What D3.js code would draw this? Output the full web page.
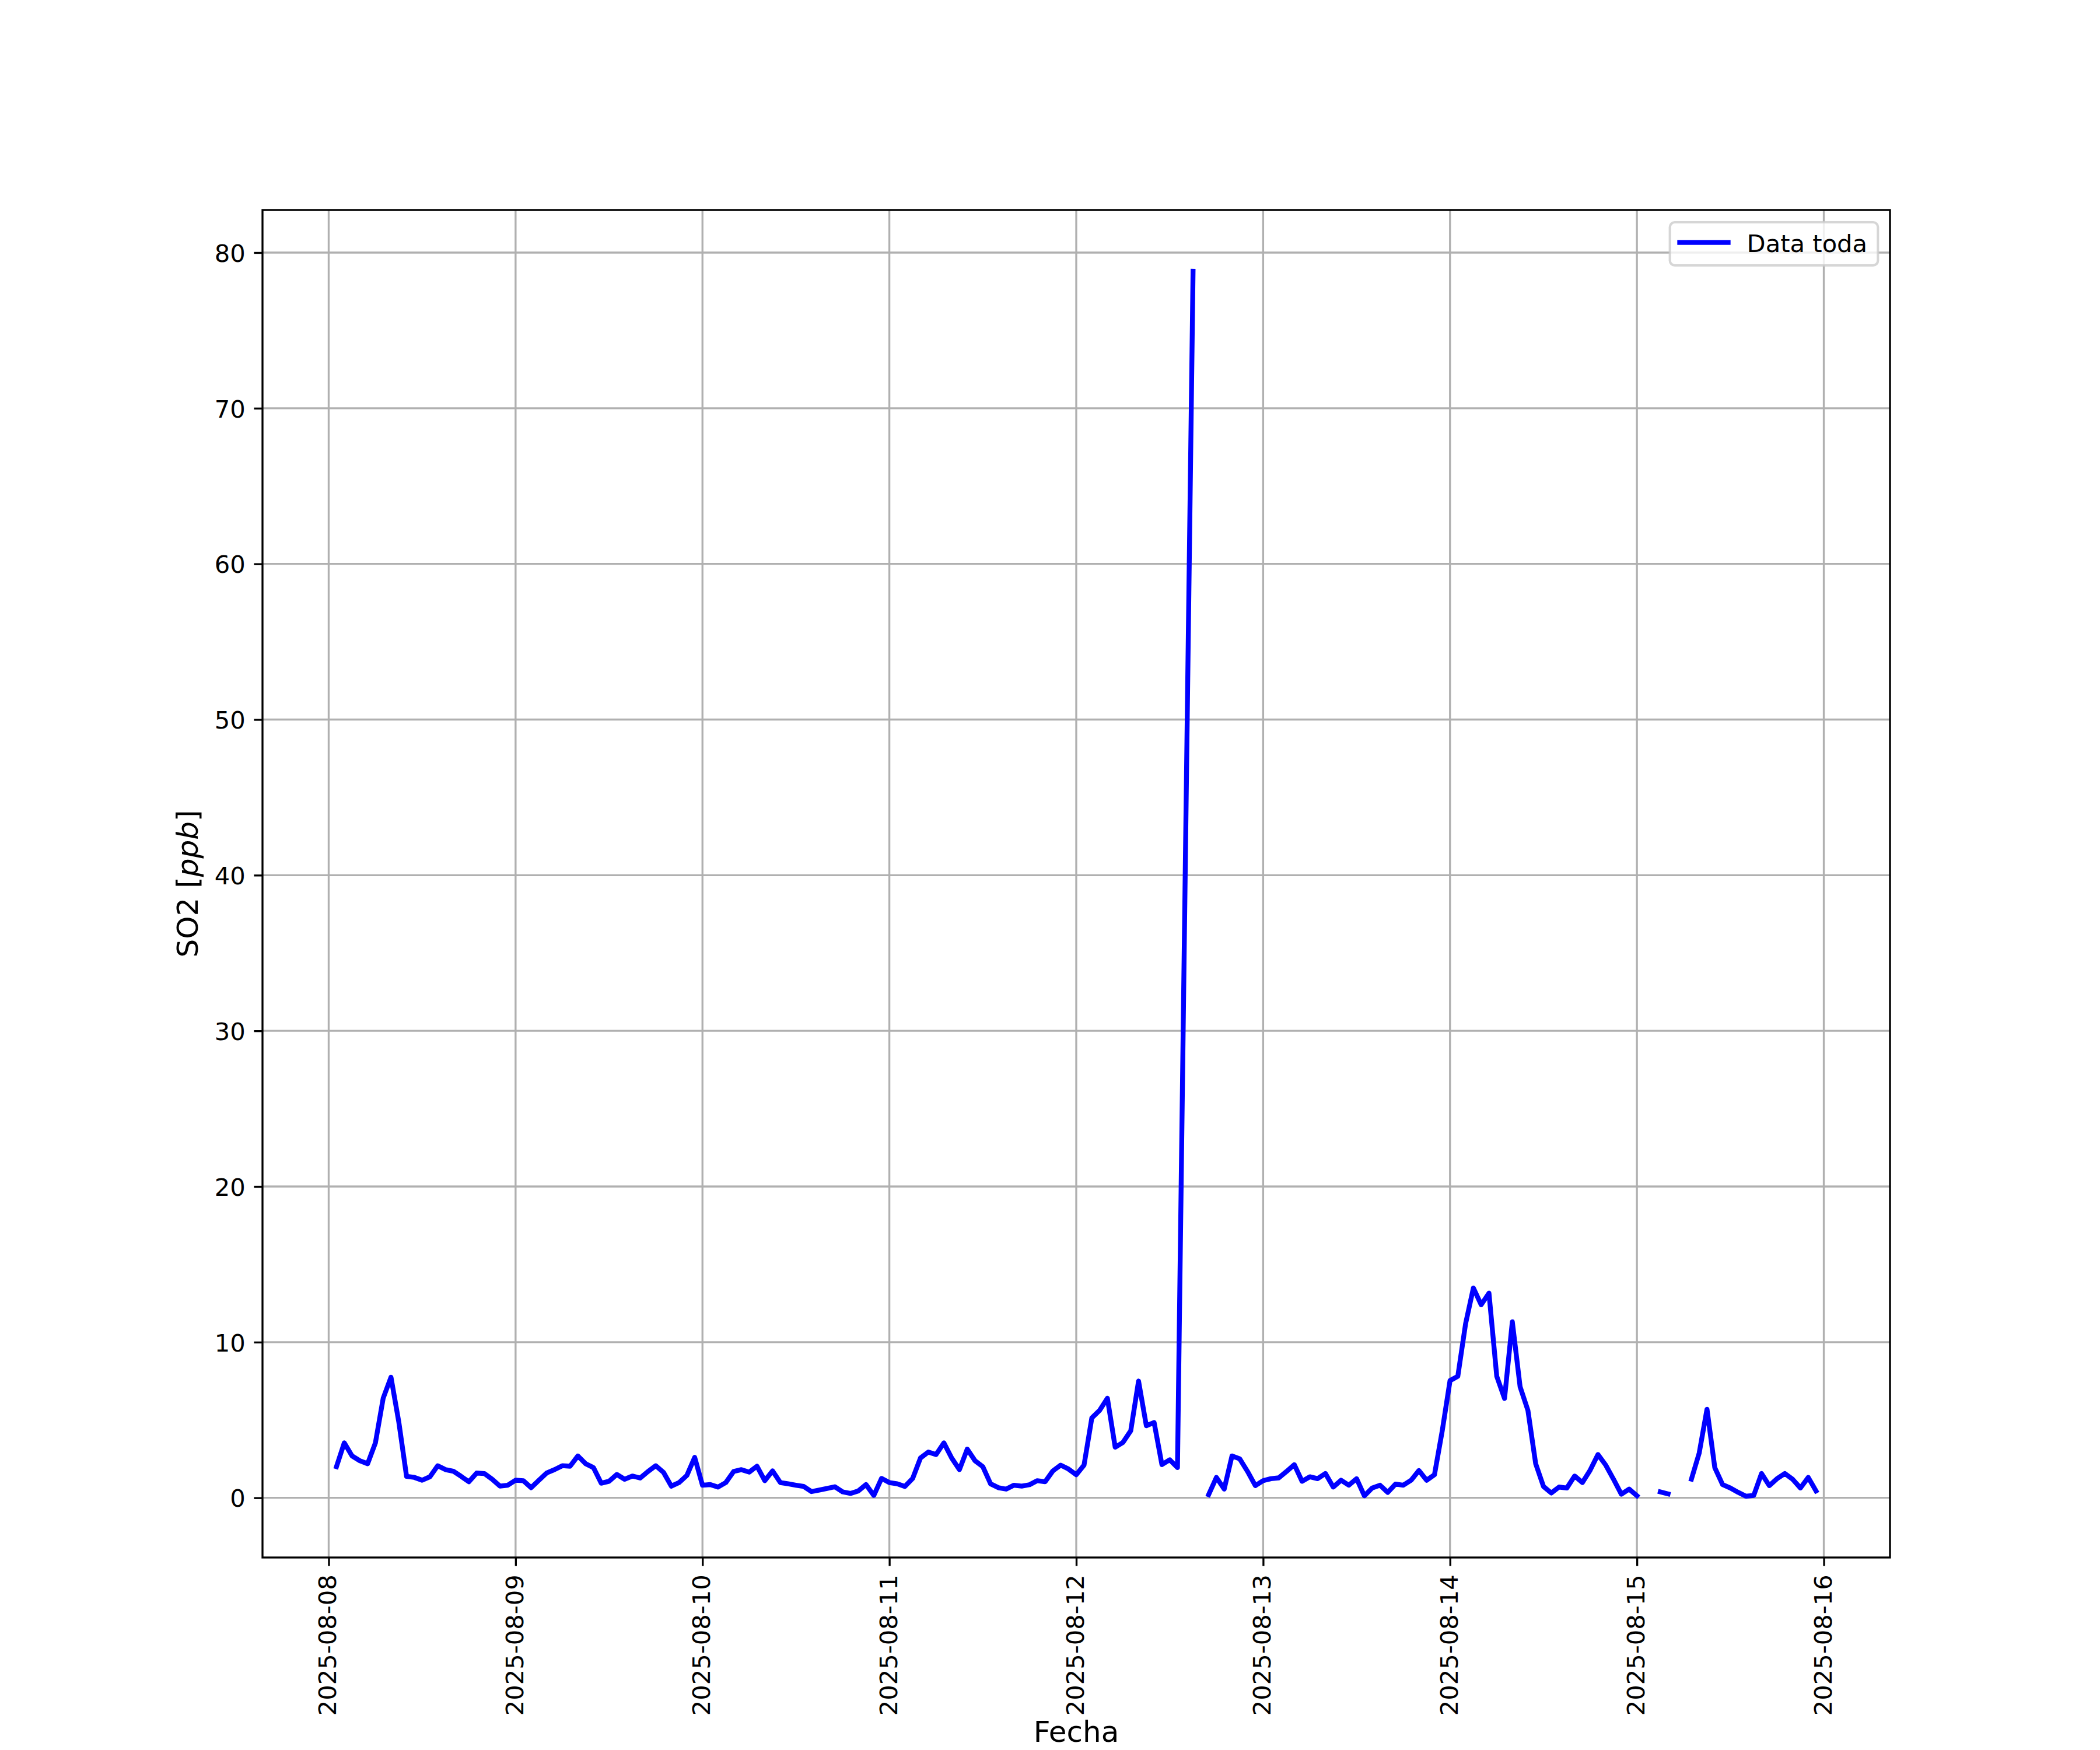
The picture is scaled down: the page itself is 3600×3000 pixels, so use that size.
<!DOCTYPE html>
<html>
<head>
<meta charset="utf-8">
<script src="https://cdn.jsdelivr.net/npm/d3@7"></script>
<style>
  html, body { margin: 0; padding: 0; background: #ffffff; }
  svg { display: block; }
  text { font-family: "DejaVu Sans", sans-serif; }
</style>
</head>
<body>
<svg id="chart" width="3600" height="3000"></svg>
<script>
// ---- data (hourly SO2, ppb) ----
const seriesName = "Data toda";
const firstHour = "2025-08-08T01:00:00Z";
// one value per hour from firstHour; null = missing reading (gap in the line)
const so2 = [
  2.00, 3.53, 2.69, 2.38, 2.19, 3.53, 6.40, 7.75, 4.88, 1.38, 1.31, 1.13,
  1.35, 2.06, 1.81, 1.71, 1.38, 1.03, 1.59, 1.56, 1.19, 0.75, 0.81, 1.13,
  1.10, 0.65, 1.13, 1.60, 1.81, 2.06, 2.03, 2.69, 2.19, 1.94, 0.94, 1.06,
  1.50, 1.19, 1.40, 1.27, 1.69, 2.06, 1.63, 0.75, 0.98, 1.44, 2.60, 0.81,
  0.85, 0.69, 0.98, 1.69, 1.81, 1.65, 2.03, 1.10, 1.73, 0.98, 0.90, 0.81,
  0.73, 0.40, 0.50, 0.60, 0.71, 0.38, 0.28, 0.44, 0.85, 0.15, 1.25, 0.98,
  0.90, 0.73, 1.25, 2.56, 2.94, 2.78, 3.53, 2.56, 1.81, 3.13, 2.38, 2.00,
  0.90, 0.65, 0.56, 0.81, 0.75, 0.84, 1.10, 1.03, 1.73, 2.10, 1.85, 1.48,
  2.10, 5.13, 5.62, 6.40, 3.25, 3.56, 4.31, 7.50, 4.63, 4.84, 2.13, 2.44,
  1.94, null, 78.80, null, 0.20, 1.31, 0.56, 2.69, 2.50, 1.69, 0.78, 1.10,
  1.23, 1.28, 1.69, 2.13, 1.06, 1.35, 1.23, 1.56, 0.69, 1.13, 0.81, 1.23,
  0.13, 0.63, 0.81, 0.35, 0.88, 0.81, 1.13, 1.75, 1.13, 1.48, 4.31, 7.53,
  7.81, 11.19, 13.48, 12.40, 13.15, 7.81, 6.38, 11.31, 7.13, 5.62, 2.19, 0.73,
  0.31, 0.69, 0.63, 1.40, 0.98, 1.78, 2.78, 2.10, 1.19, 0.23, 0.56, 0.13,
  null, null, 0.38, 0.25, null, null, 1.20, 2.88, 5.69, 1.94, 0.85, 0.63,
  0.35, 0.10, 0.15, 1.56, 0.78, 1.23, 1.56, 1.19, 0.63, 1.31, 0.44
];
// hours that have no row at all in the record (line joins across them)
const absentRows = ["2025-08-12T14:00:00Z"];
const xTickDates = ["2025-08-08","2025-08-09","2025-08-10","2025-08-11","2025-08-12",
                    "2025-08-13","2025-08-14","2025-08-15","2025-08-16"];
const yTicks = [0, 10, 20, 30, 40, 50, 60, 70, 80];
const xLabel = "Fecha";

// ---- build records ----
const t0 = new Date(firstHour).getTime();
const absentSet = new Set(absentRows.map(s => new Date(s).getTime()));
const records = so2.map((v, i) => ({ t: new Date(t0 + i * 3600e3), v }))
                   .filter(d => !absentSet.has(d.t.getTime()));

// ---- layout (matplotlib-like, 300 dpi) ----
const W = 3600, H = 3000;
const L = 450, R = 3240, T = 360, B = 2670;
const pt = 300 / 72;
const fsTick = 10 * pt, fsLabel = 12 * pt;
const tickLen = 3.5 * pt, tickPad = 3.5 * pt, spineW = 0.8 * pt;
const lineW = 2 * pt;

const svg = d3.select("#chart");
svg.append("rect").attr("width", W).attr("height", H).attr("fill", "#ffffff");

// scales with 5% margins
const tExt = d3.extent(records, d => d.t.getTime());
const tPad = (tExt[1] - tExt[0]) * 0.05;
const x = d3.scaleUtc().domain([new Date(tExt[0] - tPad), new Date(tExt[1] + tPad)]).range([L, R]);
const vals = records.filter(d => d.v != null).map(d => d.v);
const vMin = d3.min(vals), vMax = d3.max(vals);
const vPad = (vMax - vMin) * 0.05;
const y = d3.scaleLinear().domain([vMin - vPad, vMax + vPad]).range([B, T]);

const xTicks = xTickDates.map(s => new Date(s + "T00:00:00Z"));

// grid
const grid = svg.append("g").attr("stroke", "#b0b0b0").attr("stroke-width", spineW);
grid.selectAll("line.gx").data(xTicks).join("line")
  .attr("x1", d => x(d)).attr("x2", d => x(d)).attr("y1", T).attr("y2", B);
grid.selectAll("line.gy").data(yTicks).join("line")
  .attr("y1", d => y(d)).attr("y2", d => y(d)).attr("x1", L).attr("x2", R);

// clip
svg.append("clipPath").attr("id", "clip")
  .append("rect").attr("x", L).attr("y", T).attr("width", R - L).attr("height", B - T);

// line
const line = d3.line()
  .defined(d => d.v != null)
  .x(d => x(d.t)).y(d => y(d.v));
svg.append("path")
  .datum(records)
  .attr("clip-path", "url(#clip)")
  .attr("fill", "none")
  .attr("stroke", "#0000ff")
  .attr("stroke-width", lineW)
  .attr("stroke-linejoin", "round")
  .attr("stroke-linecap", "square")
  .attr("d", line);

// spines
svg.append("rect").attr("x", L).attr("y", T).attr("width", R - L).attr("height", B - T)
  .attr("fill", "none").attr("stroke", "#000").attr("stroke-width", spineW);

// x axis ticks + labels
const xAxis = svg.append("g").attr("transform", `translate(0,${B})`)
  .call(d3.axisBottom(x).tickValues(xTicks).tickFormat(d3.utcFormat("%Y-%m-%d"))
        .tickSize(tickLen).tickPadding(tickPad));
xAxis.select(".domain").remove();
xAxis.selectAll(".tick line").attr("stroke", "#000").attr("stroke-width", spineW);
xAxis.selectAll(".tick text")
  .attr("font-family", "DejaVu Sans").attr("font-size", fsTick).attr("fill", "#000")
  .attr("text-anchor", "end")
  .attr("y", 0).attr("dy", "0.30em")
  .attr("transform", `translate(0,${tickLen + tickPad}) rotate(-90)`);

// y axis ticks + labels
const yAxis = svg.append("g").attr("transform", `translate(${L},0)`)
  .call(d3.axisLeft(y).tickValues(yTicks).tickFormat(d3.format("d"))
        .tickSize(tickLen).tickPadding(tickPad));
yAxis.select(".domain").remove();
yAxis.selectAll(".tick line").attr("stroke", "#000").attr("stroke-width", spineW);
yAxis.selectAll(".tick text")
  .attr("font-family", "DejaVu Sans").attr("font-size", fsTick).attr("fill", "#000")
  .attr("dy", "0.365em");

// axis labels
svg.append("text").attr("x", (L + R) / 2).attr("y", 2986)
  .attr("text-anchor", "middle").attr("font-size", fsLabel).attr("fill", "#000")
  .text(xLabel);
const yl = svg.append("text")
  .attr("transform", `translate(339,${(T + B) / 2}) rotate(-90)`)
  .attr("text-anchor", "middle").attr("font-size", fsLabel).attr("fill", "#000");
yl.append("tspan").text("SO2 [");
yl.append("tspan").attr("font-style", "italic").text("ppb");
yl.append("tspan").text("]");

// legend
const lg = svg.append("g");
lg.append("rect").attr("x", 2862.7).attr("y", 381).attr("width", 356.6).attr("height", 74)
  .attr("rx", 8.3).attr("ry", 8.3)
  .attr("fill", "#ffffff").attr("fill-opacity", 0.8)
  .attr("stroke", "#cccccc").attr("stroke-opacity", 0.8).attr("stroke-width", 1 * pt);
lg.append("line").attr("x1", 2879.5).attr("x2", 2962.5).attr("y1", 415.7).attr("y2", 415.7)
  .attr("stroke", "#0000ff").attr("stroke-width", lineW).attr("stroke-linecap", "square");
lg.append("text").attr("x", 2994.6).attr("y", 431.5)
  .attr("font-size", fsTick).attr("fill", "#000").text(seriesName);
</script>
</body>
</html>
